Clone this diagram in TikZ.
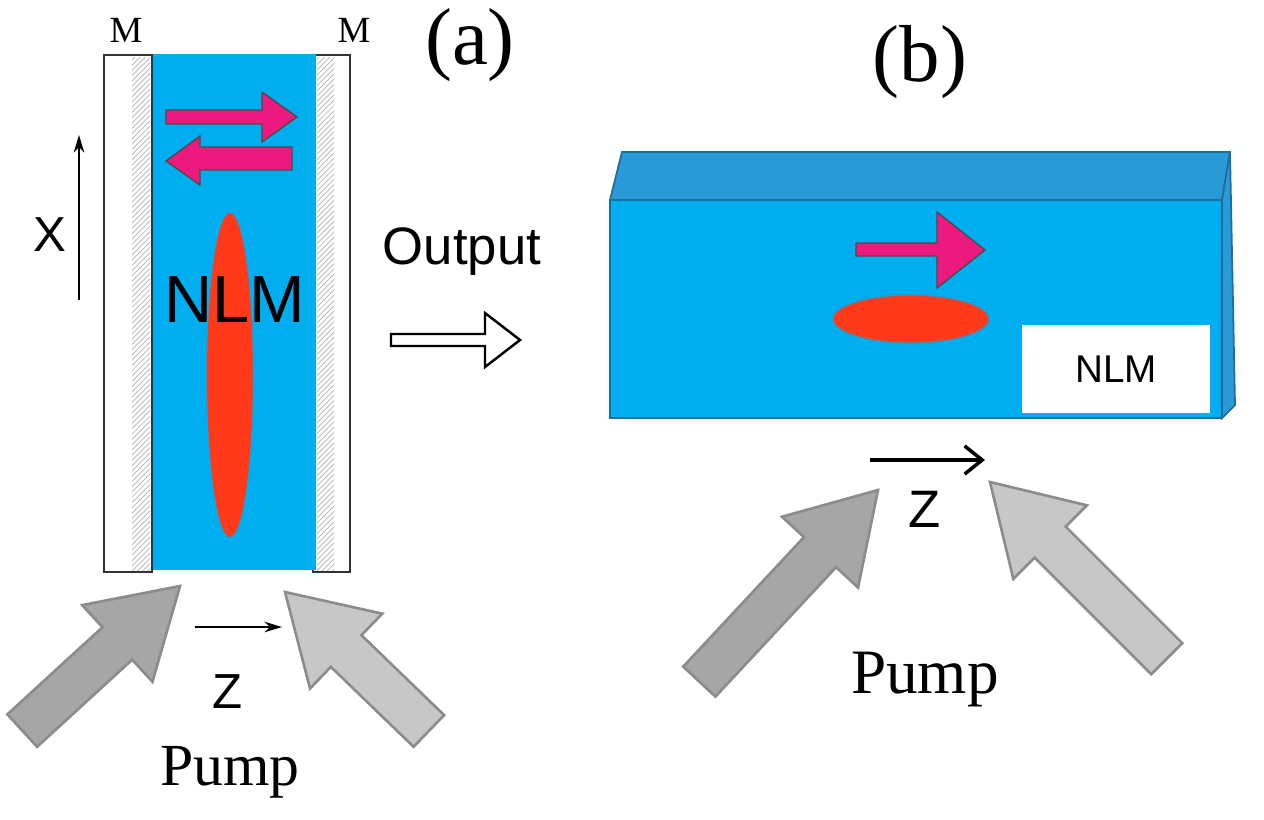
\documentclass[tikz,border=0pt]{standalone}
\usepackage{fontspec}
\setmainfont{Liberation Serif}
\newfontfamily\sansf{Liberation Sans}
\usetikzlibrary{patterns,arrows.meta}
\definecolor{cblue}{HTML}{00AEEF}
\definecolor{ctop}{HTML}{2A9AD6}
\definecolor{cedge}{HTML}{1A6FA0}
\definecolor{cred}{HTML}{FF3A1A}
\definecolor{cpink}{HTML}{EC1A7E}
\tikzset{
 pinkarrow/.style={fill=cpink,draw=black!70,line width=0.8pt},
 pumpL/.style={fill=black!35,draw=black!45,line width=1.5pt},
 pumpR/.style={fill=black!22,draw=black!45,line width=1.5pt},
 mirror/.style={draw=black!80,line width=1.6pt,fill=white},
 hatch/.style={pattern=north east lines,pattern color=black!30},
 lbl/.style={inner sep=0pt}
}
\newcommand{\blockarrow}[5]{% tip, angle, length, style, scale
 \begin{scope}[shift={#1},rotate=#2,scale=#5]
 \draw[#4] (0,0) -- (-85,-52) -- (-85,-22) -- (-#3,-22) -- (-#3,22) -- (-85,22) -- (-85,52) -- cycle;
 \end{scope}}
\begin{document}
\begin{tikzpicture}[x=0.02cm,y=-0.02cm]
\useasboundingbox (0,0) rectangle (1264,819);
% ---------- panel (a)
\draw[mirror] (104,55) rectangle (152,572);
\draw[mirror] (313,55) rectangle (350,572);
\fill[hatch] (132,57) rectangle (150,570);
\fill[hatch] (317,57) rectangle (334,570);
\fill[cblue] (153,54) rectangle (316,570);
\node[lbl,font=\fontsize{21}{21}\selectfont] (m1) at (126,30) {M};
\node[lbl,font=\fontsize{21}{21}\selectfont] (m2) at (354,30) {M};
\node[lbl,font=\fontsize{46}{46}\selectfont] (la) at (470,45) {(a)};
\begin{scope}[yshift=-30*0.02cm]
\draw[pinkarrow] (166,80) -- (262,80) -- (262,62) -- (297,87) -- (262,112) -- (262,94) -- (166,94) -- cycle;
\draw[pinkarrow] (292,117) -- (200,117) -- (200,106) -- (166,131) -- (200,155) -- (200,140) -- (292,140) -- cycle;
\end{scope}
\fill[cred] (230,375) ellipse (23 and 162);
\node[lbl,font=\sansf\fontsize{38}{38}\selectfont] (nlm1) at (235,300) {NLM};
\node[lbl,font=\sansf\fontsize{28}{28}\selectfont] (x) at (50,235) {X};
\coordinate (xa) at (79,300); \coordinate (xb) at (79,135);
\draw[-{Stealth[length=10pt,width=6pt]},line width=1.1pt] (xa) -- (xb);
\node[lbl,font=\sansf\fontsize{30}{30}\selectfont] (out) at (462,252) {Output};
\draw[line width=1.4pt,fill=white] (391,334) -- (485,334) -- (485,313) -- (520,340) -- (485,367) -- (485,346) -- (391,346) -- cycle;
\coordinate (za) at (195,627); \coordinate (zb) at (282,627);
\draw[-{Stealth[length=10pt,width=6pt]},line width=1.1pt] (za) -- (zb);
\node[lbl,font=\sansf\fontsize{28}{28}\selectfont] (z1) at (228,692) {Z};
\node[lbl,font=\fontsize{34}{34}\selectfont] (p1) at (230,772) {Pump};
% ---------- panel (b)
\draw[cedge,fill=ctop,line width=1pt] (610,200) -- (622,152) -- (1230,152) -- (1222,200) -- cycle;
\draw[cedge,fill=ctop,line width=1pt] (1222,200) -- (1230,152) -- (1235,405) -- (1222,418) -- cycle;
\draw[cedge,fill=cblue,line width=1.5pt] (610,200) rectangle (1222,418);
\node[lbl,font=\fontsize{46}{46}\selectfont] (lb) at (920,62) {(b)};
\draw[pinkarrow] (856,243) -- (937,243) -- (937,212) -- (985,250) -- (937,288) -- (937,256) -- (856,256) -- cycle;
\draw[cedge!80,fill=cred,line width=0.8pt] (911,319) ellipse (78 and 24);
\node[fill=white,minimum width=188*0.02cm,minimum height=88*0.02cm,inner sep=0pt] (box) at (1116,369) {};
\node[lbl,font=\sansf\fontsize{22}{22}\selectfont] (nlm2) at (box) {NLM};
\coordinate (zc) at (870,460); \coordinate (zd) at (985,460);
\draw[-{Straight Barb[length=10pt,width=16pt]},line width=2pt] (zc) -- (zd);
\node[lbl,font=\sansf\fontsize{30}{30}\selectfont] (z2) at (925,509) {Z};
\node[lbl,font=\fontsize{36}{36}\selectfont] (p2) at (925,680) {Pump};
% ---------- pump arrows
\blockarrow{(180,586)}{42.5}{214}{pumpL}{1}
\blockarrow{(285,592)}{136}{200}{pumpR}{1}
\blockarrow{(878,490)}{47}{262}{pumpL}{1}
\blockarrow{(990,482)}{135}{250}{pumpR}{1}
\end{tikzpicture}
\end{document}
